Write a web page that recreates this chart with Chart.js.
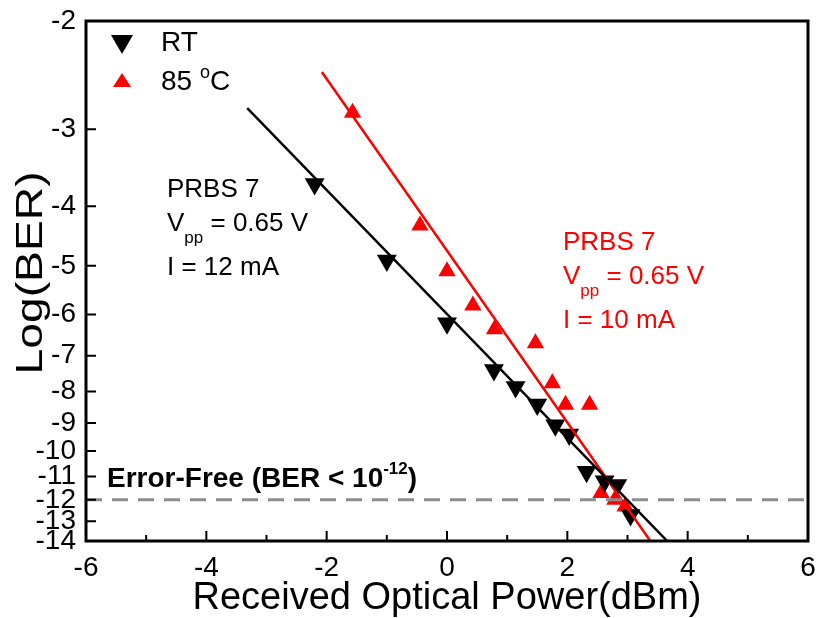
<!DOCTYPE html>
<html lang="en">
<head>
    <meta charset="UTF-8">
    <title>BER vs Received Optical Power</title>
    <script src="https://cdn.jsdelivr.net/npm/chart.js"></script>
    <style>
        body {
            margin: 0;
            padding: 0;
            background: #fff;
        }
        #wrap {
            width: 820px;
            height: 618px;
        }
    </style>
</head>
<body>
    <div id="wrap"><canvas id="berChart" width="820" height="618"></canvas></div>

    <script>
        // RT data (black, down triangles)
        const rtPower = [-2.2, -1.0, 0.0, 0.78, 1.14, 1.5, 1.8, 2.03, 2.32, 2.62, 2.83, 3.05];
        const rtLogBer = [-3.68, -4.9, -6.2, -7.38, -7.87, -8.4, -9.08, -9.4, -10.8, -11.2, -11.35, -12.7];

        // 85 C data (red, up triangles)
        const hotPower = [-1.57, -0.45, 0.0, 0.43, 0.79, 1.47, 1.75, 1.97, 2.37, 2.56, 2.79, 2.96];
        const hotLogBer = [-2.82, -4.3, -5.1, -5.8, -6.34, -6.68, -7.76, -8.41, -8.41, -11.7, -12.0, -12.3];

        // fitted lines (end points)
        const rtFitPower = [-3.32, 3.66];
        const rtFitLogBer = [-2.77, -14];
        const hotFitPower = [-2.08, 3.38];
        const hotFitLogBer = [-2.42, -14];

        const errorFreeLevel = -12;
        const xTicks = [-6, -4, -2, 0, 2, 4, 6];
        const yTicks = [-2, -3, -4, -5, -6, -7, -8, -9, -10, -11, -12, -13, -14];

        const FONT = "Arial, 'Liberation Sans', sans-serif";

        // the y axis is log(-logBER), so plot the magnitude on a reversed log scale
        const toPts = (xs, ys) => xs.map((x, i) => ({ x: x, y: -ys[i] }));

        // draws box, inward ticks, y title and text annotations
        const decorPlugin = {
            id: "decor",
            afterDraw(chart) {
                const ctx = chart.ctx;
                const area = chart.chartArea;
                const xs = chart.scales.x;
                const ys = chart.scales.y;
                ctx.save();

                // ticks pointing inward
                ctx.strokeStyle = "#000";
                ctx.lineWidth = 2;
                ctx.beginPath();
                for (let v = -6; v <= 6; v++) {
                    const px = xs.getPixelForValue(v);
                    const len = (v % 2 === 0) ? 10 : 6;
                    ctx.moveTo(px, area.bottom);
                    ctx.lineTo(px, area.bottom - len);
                }
                yTicks.forEach(v => {
                    const py = ys.getPixelForValue(-v);
                    ctx.moveTo(area.left, py);
                    ctx.lineTo(area.left + 10, py);
                });
                ctx.stroke();

                // frame
                ctx.lineWidth = 3;
                ctx.strokeRect(area.left, area.top, area.right - area.left, area.bottom - area.top);

                // y title (stretched a bit along its length like the original)
                ctx.save();
                ctx.translate(32, 273);
                ctx.rotate(-Math.PI / 2);
                ctx.scale(1.25, 1);
                ctx.fillStyle = "#000";
                ctx.font = "37px " + FONT;
                ctx.textAlign = "center";
                ctx.textBaseline = "middle";
                ctx.fillText("Log(BER)", 0, 0);
                ctx.restore();

                // legend
                ctx.fillStyle = "#000";
                ctx.beginPath();
                ctx.moveTo(111, 35);
                ctx.lineTo(133, 35);
                ctx.lineTo(122, 54);
                ctx.closePath();
                ctx.fill();
                ctx.fillStyle = "#ff0000";
                ctx.beginPath();
                ctx.moveTo(113, 87);
                ctx.lineTo(131, 87);
                ctx.lineTo(122, 73);
                ctx.closePath();
                ctx.fill();

                ctx.textBaseline = "middle";
                ctx.textAlign = "left";
                ctx.font = "28px " + FONT;
                ctx.fillStyle = "#000";
                ctx.fillText("RT", 161, 43);
                ctx.fillText("85 ", 161, 82);
                let w = ctx.measureText("85 ").width;
                ctx.font = "18px " + FONT;
                ctx.fillText("o", 161 + w, 73);
                let w2 = ctx.measureText("o").width;
                ctx.font = "28px " + FONT;
                ctx.fillText("C", 161 + w + w2, 82);

                // annotation blocks
                const block = (x, y, color, current) => {
                    ctx.fillStyle = color;
                    ctx.font = "26px " + FONT;
                    ctx.fillText("PRBS 7", x, y);
                    ctx.fillText("V", x, y + 34);
                    const vw = ctx.measureText("V").width;
                    ctx.font = "17px " + FONT;
                    ctx.fillText("pp", x + vw, y + 48);
                    const pw = ctx.measureText("pp").width;
                    ctx.font = "26px " + FONT;
                    ctx.fillText(" = 0.65 V", x + vw + pw, y + 34);
                    ctx.fillText(current, x, y + 78);
                };
                block(167, 190, "#000", "I = 12 mA");
                block(563, 243, "#ff0000", "I = 10 mA");

                // error-free label
                ctx.fillStyle = "#000";
                ctx.font = "bold 28px " + FONT;
                const ef = "Error-Free (BER < 10";
                ctx.fillText(ef, 107, 479);
                const efw = ctx.measureText(ef).width;
                ctx.font = "bold 17px " + FONT;
                ctx.fillText("-12", 107 + efw, 469);
                const supw = ctx.measureText("-12").width;
                ctx.font = "bold 28px " + FONT;
                ctx.fillText(")", 107 + efw + supw, 479);

                ctx.restore();
            }
        };

        const ctx = document.getElementById("berChart").getContext("2d");
        new Chart(ctx, {
            type: "scatter",
            data: {
                datasets: [
                    {
                        label: "Error-Free",
                        data: [{ x: -6, y: -errorFreeLevel }, { x: 6, y: -errorFreeLevel }],
                        showLine: true,
                        borderColor: "#8c8c8c",
                        borderWidth: 3,
                        borderDash: [16, 10],
                        pointRadius: 0
                    },
                    {
                        label: "RT fit",
                        data: toPts(rtFitPower, rtFitLogBer),
                        showLine: true,
                        borderColor: "#000",
                        borderWidth: 2.5,
                        pointRadius: 0
                    },
                    {
                        label: "85 C fit",
                        data: toPts(hotFitPower, hotFitLogBer),
                        showLine: true,
                        borderColor: "#ff0000",
                        borderWidth: 2.5,
                        pointRadius: 0
                    },
                    {
                        label: "RT",
                        data: toPts(rtPower, rtLogBer),
                        pointStyle: "triangle",
                        rotation: 180,
                        pointRadius: 11.5,
                        backgroundColor: "#000",
                        borderColor: "#000",
                        borderWidth: 0
                    },
                    {
                        label: "85 C",
                        data: toPts(hotPower, hotLogBer),
                        pointStyle: "triangle",
                        pointRadius: 10,
                        backgroundColor: "#ff0000",
                        borderColor: "#ff0000",
                        borderWidth: 0
                    }
                ]
            },
            options: {
                responsive: false,
                animation: false,
                layout: { padding: { left: 0, right: 12, top: 21, bottom: 0 } },
                plugins: {
                    legend: { display: false },
                    tooltip: { enabled: false }
                },
                scales: {
                    x: {
                        type: "linear",
                        min: -6,
                        max: 6,
                        afterBuildTicks: s => { s.ticks = xTicks.map(v => ({ value: v })); },
                        afterFit: s => {
                            s.height = 77;
                            s.paddingLeft = 0;
                            s.paddingRight = 0;
                        },
                        grid: { display: false, drawTicks: false },
                        border: { display: false },
                        ticks: {
                            color: "#000",
                            padding: 10,
                            font: { size: 28, family: FONT },
                            maxRotation: 0
                        },
                        title: {
                            display: true,
                            text: "Received Optical Power(dBm)",
                            color: "#000",
                            font: { size: 38, family: FONT },
                            padding: { top: 0, bottom: -3 }
                        }
                    },
                    y: {
                        type: "logarithmic",
                        reverse: true,
                        min: 2,
                        max: 14,
                        afterBuildTicks: s => { s.ticks = yTicks.map(v => ({ value: -v })); },
                        afterFit: s => {
                            s.width = 86;
                            s.paddingTop = 0;
                            s.paddingBottom = 0;
                        },
                        grid: { display: false, drawTicks: false },
                        border: { display: false },
                        ticks: {
                            color: "#000",
                            padding: 10,
                            autoSkip: false,
                            font: { size: 28, family: FONT },
                            callback: v => String(-v)
                        },
                        title: { display: false }
                    }
                }
            },
            plugins: [decorPlugin]
        });
    </script>
</body>
</html>
